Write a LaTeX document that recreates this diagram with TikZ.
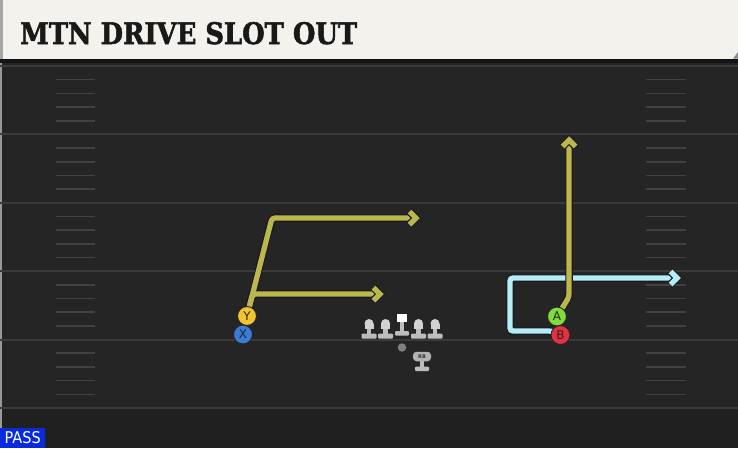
\documentclass[tikz,border=0pt]{standalone}
\usepackage{fontspec}
\usepackage{graphicx}
\setsansfont{DejaVu Sans}
\newfontfamily\titlefont[BoldFeatures={FakeBold=2}]{DejaVu Serif}
\definecolor{field}{HTML}{252525}
\definecolor{fieldlow}{HTML}{202020}
\definecolor{headercol}{HTML}{F4F2EC}
\definecolor{yardcol}{HTML}{3A3A3A}
\definecolor{hashcol}{HTML}{424242}
\definecolor{routeY}{HTML}{B9B74E}
\definecolor{routeC}{HTML}{B4ECFA}
\definecolor{passblue}{HTML}{0A2AE0}
\definecolor{pY}{HTML}{F2C530}
\definecolor{pX}{HTML}{3A7BD5}
\definecolor{pA}{HTML}{7DDB3A}
\definecolor{pB}{HTML}{E3313D}
\definecolor{lmhead}{HTML}{D2D2D2}
\definecolor{lmbody}{HTML}{BDBDBD}
\pgfdeclarelayer{bg}
\pgfdeclarelayer{routes}
\pgfsetlayers{bg,routes,main}
\tikzset{
  yard/.style={draw=yardcol, line width=2pt},
  hashmark/.style={draw=hashcol, line width=1.6pt},
  rbase/.style={line width=7.5pt, draw=black!90, rounded corners=3pt},
  rtop/.style={line width=5.3pt, rounded corners=3pt},
  cbase/.style={line width=7.5pt, draw=black!90, line join=miter},
  ctop/.style={line width=5.3pt, line join=miter},
  player/.style={circle, draw=black!85, line width=1pt, minimum size=19pt, inner sep=0pt,
    font=\sffamily\fontsize{12}{12}\selectfont, text=black!85},
  lineman/.pic={
    \fill[lmhead] (0,0) circle[radius=4.5];
    \fill[lmhead] (-4.5,0) rectangle (4.5,5);
    \fill[lmbody] (-2.2,5) rectangle (2.2,11);
    \fill[lmbody, rounded corners=1pt] (-7.5,10) rectangle (7.5,15);
  },
  centerman/.pic={
    \fill[white] (-5,-9) rectangle (5,-1);
    \fill[lmbody] (-2.2,-1) rectangle (2.2,9);
    \fill[lmbody, rounded corners=1pt] (-7,8) rectangle (7,12.5);
  }
}
\newcommand\chevron[3]{%
  \begin{scope}[shift={(#1)}, rotate=#2]
    \draw[cbase] (-6.5,-6.5) -- (0,0) -- (-6.5,6.5);
    \draw[ctop, draw=#3] (-6.5,-6.5) -- (0,0) -- (-6.5,6.5);
  \end{scope}}
\begin{document}
\begin{tikzpicture}[x=1pt,y=-1pt]
\useasboundingbox (0,0) rectangle (738,448);
\begin{pgfonlayer}{bg}
\fill[field] (0,0) rectangle (738,448);
\fill[fieldlow] (0,409) rectangle (738,448);
\fill[black!40] (0,0) rectangle (2,448);
% yard lines
\foreach \yy in {66,134.4,202.8,271.2,339.6,408} \draw[yard] (0,\yy) -- (738,\yy);
% hash marks
\foreach \i in {0,...,4} {
  \foreach \j in {1,...,4} {
    \pgfmathsetmacro\hy{66+68.4*\i+13.68*\j}
    \draw[hashmark] (56,\hy) -- (95,\hy);
    \draw[hashmark] (646,\hy) -- (686,\hy);
  }
}
% header
\fill[black!92] (0,57) rectangle (738,63);
\fill[headercol] (3,0) rectangle (738,58.5);
\fill[black!35] (0,0) rectangle (3,58.5);
\fill[black!45] (733,58.5) -- (738,52) -- (738,58.5) -- cycle;
\end{pgfonlayer}

\node[anchor=base west, inner sep=0pt, text=black!90] (title) at (20,44)
  {\resizebox{337pt}{22pt}{\titlefont\bfseries MTN DRIVE SLOT OUT}};

% players
\node[player, fill=pY] (Y) at (247,316) {Y};
\node[player, fill=pX] (X) at (243,334.5) {X};
\node[player, fill=pA] (A) at (557,316.5) {A};
\node[player, fill=pB] (B) at (560.5,335) {B};

% route points
\coordinate (y1) at (272,218);
\coordinate (y1e) at (416,218);
\coordinate (y2) at (252.5,294);
\coordinate (y2e) at (380,294);
\coordinate (a1) at (569,297);
\coordinate (ae) at (569,140);
\coordinate (bs) at (552,331);
\coordinate (b1) at (510,331);
\coordinate (b2) at (510,278);
\coordinate (be) at (677,278);

\begin{pgfonlayer}{routes}
\draw[rbase] (B.center) -- (bs) -- (b1) -- (b2) -- (be);
\draw[rtop, draw=routeC] (B.center) -- (bs) -- (b1) -- (b2) -- (be);
\chevron{be}{0}{routeC}
\draw[rbase] (A.center) -- (a1) -- (ae);
\draw[rtop, draw=routeY] (A.center) -- (a1) -- (ae);
\chevron{ae}{90}{routeY}
\draw[rbase] (Y.center) -- (y1) -- (y1e);
\draw[rbase] (Y.center) -- (y2) -- (y2e);
\draw[rtop, draw=routeY] (Y.center) -- (y1) -- (y1e);
\draw[rtop, draw=routeY] (Y.center) -- (y2) -- (y2e);
\chevron{y1e}{0}{routeY}
\chevron{y2e}{0}{routeY}
\end{pgfonlayer}

% offensive line
\pic (LT) at (369,323.5) {lineman};
\pic (LG) at (385.5,323.5) {lineman};
\pic (C) at (402,323) {centerman};
\pic (RG) at (418.5,323.5) {lineman};
\pic (RT) at (435,323.5) {lineman};

% QB and RB
\node[circle, fill=black!50, minimum size=8.5pt, inner sep=0pt] (QB) at (402,347.5) {};
\fill[lmbody] (420,360) rectangle (424,367);
\fill[lmbody, rounded corners=1pt] (415,366.5) rectangle (429,371);
\node[fill=black!30, rounded corners=3.5pt, minimum width=18pt, minimum height=9.5pt, inner sep=0pt,
  font=\sffamily\bfseries\fontsize{5}{5}\selectfont, text=black!80] (RB) at (422,356.5) {RB};

% play type label
\node[fill=passblue, anchor=south west, minimum width=45pt, minimum height=20pt, inner sep=0pt, text=white]
  (pass) at (0,448) {\resizebox{36pt}{12pt}{\sffamily PASS}};
\end{tikzpicture}
\end{document}
